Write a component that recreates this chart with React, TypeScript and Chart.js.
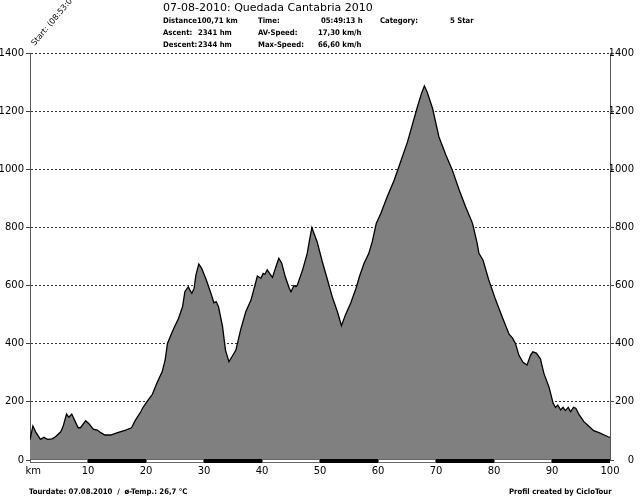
import React, { useEffect, useRef } from "react";
import { Chart, registerables } from "chart.js";

Chart.register(...registerables);

// ---- data ----
const kmValues = [
  0.0, 0.5, 1.0, 1.8, 2.4, 3.0, 3.8, 4.4, 5.3, 5.7, 6.3, 6.7, 7.2, 7.8, 8.3, 8.7, 9.6, 10.2, 10.9,
  11.6, 12.2, 12.9, 13.9, 15.1, 16.5, 17.5, 18.2, 19.1, 19.4, 20.2, 21.1, 21.9, 22.8, 23.3, 23.7,
  24.3, 24.8, 25.6, 26.3, 26.7, 27.3, 27.5, 27.9, 28.3, 28.6, 29.1, 29.6, 30.4, 31.2, 31.7, 32.1,
  32.5, 33.2, 33.7, 34.3, 35.5, 36.3, 37.2, 38.1, 38.8, 39.2, 39.8, 40.2, 40.5, 40.9, 41.3, 41.8,
  42.4, 42.9, 43.4, 44.0, 44.7, 45.0, 45.5, 45.9, 46.1, 47.0, 47.8, 48.2, 48.6, 49.5, 50.4, 51.3,
  52.1, 53.0, 53.7, 54.4, 55.3, 56.2, 56.8, 57.6, 58.4, 59.0, 59.7, 60.5, 61.6, 62.8, 63.9, 65.1,
  65.9, 66.8, 67.5, 68.0, 68.5, 69.4, 70.5, 71.7, 72.8, 74.0, 75.1, 76.3, 77.1, 77.4, 78.1, 79.1,
  80.3, 81.4, 82.6, 83.2, 83.7, 84.3, 85.0, 85.7, 86.3, 86.7, 87.3, 88.0, 88.6, 89.5, 90.2, 90.6,
  91.0, 91.5, 91.9, 92.3, 92.8, 93.2, 93.7, 94.1, 94.7, 95.5, 96.4, 97.2, 98.1, 99.0, 99.7, 100.0,
];
const elevValues = [
  70, 117, 96, 71, 78, 71, 73, 80, 97, 115, 158, 147, 158, 132, 111, 111, 135, 124, 106,
  103, 94, 86, 86, 94, 103, 111, 138, 166, 178, 202, 226, 266, 304, 344, 401,
  430, 453, 487, 527, 579, 596, 587, 573, 591, 636, 674, 659, 619, 573, 541, 545,
  527, 459, 378, 338, 378, 447, 510, 550, 602, 633, 625, 642, 639, 654, 642, 628,
  665, 694, 677, 631, 591, 579, 600, 596, 602, 654, 711, 757, 799, 751, 682, 619,
  562, 510, 462, 500, 540, 590, 631, 677, 710, 750, 814, 849, 906, 963, 1026, 1095,
  1152, 1215, 1261, 1287, 1264, 1210, 1112, 1049, 998, 929, 871, 814, 745, 711, 688, 619,
  550, 493, 433, 419, 401, 360, 336, 327, 361, 372, 368, 348, 298, 250, 195, 181,
  189, 172, 181, 170, 181, 166, 181, 178, 155, 132, 115, 101, 94, 86, 80, 78,
];
const xTicks = [0, 10, 20, 30, 40, 50, 60, 70, 80, 90, 100];
const yTicks = [0, 200, 400, 600, 800, 1000, 1200, 1400];

const titleText = "07-08-2010: Quedada Cantabria 2010";
const infoRow1 = ["Distance100,71 km", "Time:", "05:49:13 h", "Category:", "5 Star"];
const infoRow2 = ["Ascent:", "2341 hm", "AV-Speed:", "17,30 km/h"];
const infoRow3 = ["Descent:", "2344 hm", "Max-Speed:", "66,60 km/h"];
const startText = "Start: (08:53:00)";
const footerLeft = "Tourdate: 07.08.2010  /  \u00f8-Temp.: 26,7 \u00b0C";
const footerRight = "Profil created by CicloTour";

const tickFont = { family: "'DejaVu Sans', sans-serif", size: 10 };

const kmBarPlugin = {
  id: "kmBar",
  afterDraw(chart: any) {
    const xs = chart.scales.x;
    const ys = chart.scales.y;
    const ctx = chart.ctx;
    const y0 = Math.round(ys.getPixelForValue(0));
    for (let i = 0; i < xTicks.length - 1; i++) {
      const a = xs.getPixelForValue(xTicks[i]);
      const b = xs.getPixelForValue(xTicks[i + 1]);
      ctx.save();
      if (i % 2 === 1) {
        ctx.fillStyle = "#000";
        ctx.fillRect(a, y0 - 1, b - a, 4);
      } else {
        ctx.fillStyle = "#fff";
        ctx.fillRect(a, y0 - 1, b - a, 4);
        ctx.strokeStyle = "#666";
        ctx.lineWidth = 1;
        ctx.strokeRect(a + 0.5, y0 - 0.5, b - a - 1, 3);
      }
      ctx.restore();
    }
  },
};

function ProfileChart() {
  const ref = useRef<HTMLCanvasElement | null>(null);
  useEffect(() => {
    if (!ref.current) return;
    const points = kmValues.map((k, i) => ({ x: k, y: elevValues[i] }));
    const chart = new Chart(ref.current, {
      type: "line",
      data: {
        datasets: [
          {
            data: points,
            borderColor: "#000",
            borderWidth: 1.3,
            backgroundColor: "#808080",
            fill: "origin",
            pointRadius: 0,
            tension: 0,
          },
        ],
      },
      options: {
        responsive: false,
        animation: false,
        layout: { padding: { top: 53, left: 0, right: 6, bottom: 0 } },
        plugins: { legend: { display: false }, tooltip: { enabled: false } },
        scales: {
          x: {
            type: "linear",
            min: 0,
            max: 100,
            afterBuildTicks: (s: any) => {
              s.ticks = xTicks.map((v) => ({ value: v }));
            },
            afterFit: (s: any) => {
              s.height = 42;
            },
            grid: { display: false, drawTicks: false },
            border: { display: false },
            ticks: {
              autoSkip: false,
              maxRotation: 0,
              padding: 5,
              color: "#000",
              font: tickFont,
              callback: (v: any) => (v === 0 ? "  km" : String(v)),
            },
          },
          y: {
            type: "linear",
            position: "left",
            min: 0,
            max: 1400,
            z: 1,
            afterBuildTicks: (s: any) => {
              s.ticks = yTicks.map((v) => ({ value: v }));
            },
            afterFit: (s: any) => {
              s.width = 30;
            },
            grid: {
              color: "#333",
              lineWidth: 1,
              tickLength: 4,
              tickColor: "#444",
              tickBorderDash: [],
            },
            border: { display: true, color: "#555", width: 1, dash: [2, 2] },
            ticks: { padding: 2, color: "#000", font: tickFont, callback: (v: any) => String(v) },
          },
          y2: {
            type: "linear",
            axis: "y",
            position: "right",
            min: 0,
            max: 1400,
            afterBuildTicks: (s: any) => {
              s.ticks = yTicks.map((v) => ({ value: v }));
            },
            afterFit: (s: any) => {
              s.width = 24;
            },
            grid: { drawOnChartArea: false, tickLength: 4, color: "#444" },
            border: { display: true, color: "#555", width: 1 },
            ticks: {
              crossAlign: "far",
              padding: 0,
              color: "#000",
              font: tickFont,
              callback: (v: any) => String(v),
            },
          },
        },
      } as any,
      plugins: [kmBarPlugin],
    });
    return () => chart.destroy();
  }, []);
  return <canvas ref={ref} width={640} height={502} style={{ display: "block" }} />;
}

const boldSmall: React.CSSProperties = {
  position: "absolute",
  fontFamily: "'DejaVu Sans Condensed', 'DejaVu Sans', sans-serif",
  fontStretch: "condensed",
  fontWeight: "bold",
  fontSize: 7.7,
  lineHeight: "10px",
  whiteSpace: "pre",
  color: "#000",
};

export default function App() {
  const row1Left = [163, 258, 321, 380, 450];
  const rowLeft = [163, 198, 258, 318];
  return (
    <div
      style={{
        position: "fixed",
        left: 0,
        top: 0,
        width: 640,
        height: 502,
        background: "#fff",
        overflow: "hidden",
      }}
    >
      <ProfileChart />
      <div
        style={{
          position: "absolute",
          left: 163,
          top: 1,
          fontFamily: "'DejaVu Sans', sans-serif",
          fontSize: 11,
          lineHeight: "13px",
          whiteSpace: "pre",
          color: "#000",
        }}
      >
        {titleText}
      </div>
      {infoRow1.map((t, i) => (
        <div key={"r1" + i} style={{ ...boldSmall, left: row1Left[i], top: 16 }}>
          {t}
        </div>
      ))}
      {infoRow2.map((t, i) => (
        <div key={"r2" + i} style={{ ...boldSmall, left: rowLeft[i], top: 28 }}>
          {t}
        </div>
      ))}
      {infoRow3.map((t, i) => (
        <div key={"r3" + i} style={{ ...boldSmall, left: rowLeft[i], top: 40 }}>
          {t}
        </div>
      ))}
      <div
        style={{
          position: "absolute",
          left: 37,
          top: 38,
          fontFamily: "'DejaVu Sans', sans-serif",
          fontSize: 8,
          lineHeight: "10px",
          whiteSpace: "pre",
          color: "#000",
          transformOrigin: "0% 100%",
          transform: "rotate(-50deg)",
        }}
      >
        {startText}
      </div>
      <div style={{ ...boldSmall, left: 29, top: 487 }}>{footerLeft}</div>
      <div style={{ ...boldSmall, left: 509, top: 487 }}>{footerRight}</div>
    </div>
  );
}
